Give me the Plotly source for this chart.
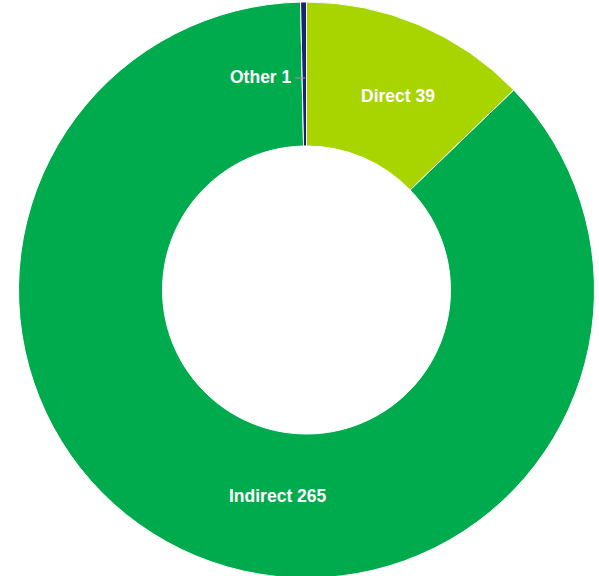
import plotly.graph_objects as go

# ---- data ----
categories = ["Direct", "Indirect", "Other"]
values = [39, 265, 1]
colors = ["#A8D400", "#00AB4E", "#14286E"]

W, H = 599, 580
CX, CY, R = 306.5, 290, 288

fig = go.Figure(
    go.Pie(
        labels=categories,
        values=values,
        hole=0.5,
        sort=False,
        direction="clockwise",
        rotation=0,
        textinfo="none",
        hoverinfo="label+value",
        marker=dict(colors=colors, line=dict(color="#FFFFFF", width=1)),
        domain=dict(x=[(CX - R) / W, (CX + R) / W],
                    y=[max(0, 1 - (CY + R) / H), min(1, 1 - (CY - R) / H)]),
        showlegend=False,
    )
)

# label layout (pixel positions of data labels)
label_pos = {"Direct": (398, 95.5), "Indirect": (277.5, 496), "Other": (261, 77.5)}
for cat, val in zip(categories, values):
    px, py = label_pos[cat]
    fig.add_annotation(
        x=px / W, y=1 - py / H, xref="paper", yref="paper",
        text=f"<b>{cat} {val}</b>", showarrow=False,
        xanchor="center", yanchor="middle",
        font=dict(family="Liberation Sans, Arial, sans-serif", size=17.5, color="#FFFFFF"),
    )

# connector for the tiny slice label
fig.add_shape(type="line", xref="paper", yref="paper",
              x0=295 / W, x1=305 / W, y0=1 - 78 / H, y1=1 - 78 / H,
              line=dict(color="#9A9A9A", width=1))

fig.update_layout(
    width=W, height=H,
    margin=dict(l=0, r=0, t=0, b=0),
    paper_bgcolor="#FFFFFF",
    plot_bgcolor="#FFFFFF",
)

fig.write_html("out.html", config={"displayModeBar": False},
               post_script="document.body.style.margin='0px';")
